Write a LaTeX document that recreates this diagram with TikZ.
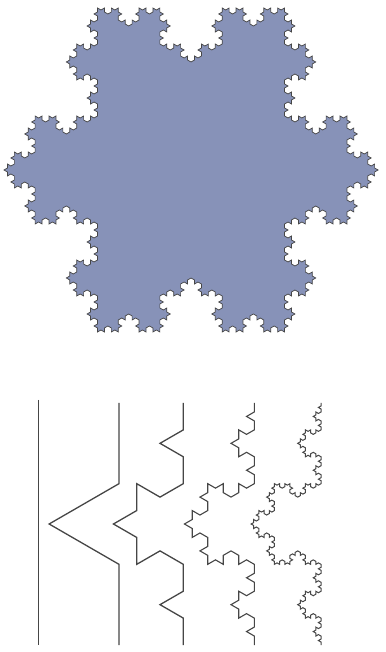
\documentclass[tikz,border=0pt]{standalone}
\usetikzlibrary{lindenmayersystems}
\pgfdeclarelindenmayersystem{Koch}{\rule{F -> F-F++F-F}}
\definecolor{flake}{RGB}{135,146,184}
\definecolor{ink}{RGB}{70,70,70}
\tikzset{
  flakefill/.style={fill=flake, draw=ink, line width=0.7pt, line join=miter},
  curveline/.style={draw=ink, line width=1.3pt, line join=miter}
}
\begin{document}
\begin{tikzpicture}[x=1pt,y=1pt]
\useasboundingbox (0,0) rectangle (385,652);
% Koch snowflake
\begin{scope}[shift={(97.5,320)}, rotate=30]
  \coordinate (s0) at (0,0);
  \path[flakefill] [l-system={Koch, axiom=F++F++F, order=4, step=4pt, angle=60}] (s0) lindenmayer system -- cycle;
\end{scope}
% Koch curve stages
\coordinate (c0t) at (38.3,252);
\coordinate (c0b) at (38.3,7);
\draw[curveline] (c0t) -- (c0b);
\begin{scope}[shift={(119,249)}, rotate=-90]
  \coordinate (c1) at (0,0);
  \path[curveline] [l-system={Koch, axiom=F, order=1, step=80.667pt, angle=60}] (c1) lindenmayer system;
\end{scope}
\begin{scope}[shift={(183.3,249)}, rotate=-90]
  \coordinate (c2) at (0,0);
  \path[curveline] [l-system={Koch, axiom=F, order=2, step=26.889pt, angle=60}] (c2) lindenmayer system;
\end{scope}
\begin{scope}[shift={(254.3,249)}, rotate=-90]
  \coordinate (c3) at (0,0);
  \path[curveline, line width=1.1pt] [l-system={Koch, axiom=F, order=3, step=8.963pt, angle=60}] (c3) lindenmayer system;
\end{scope}
\begin{scope}[shift={(321,249)}, rotate=-90]
  \coordinate (c4) at (0,0);
  \path[curveline, line width=1pt] [l-system={Koch, axiom=F, order=4, step=2.988pt, angle=60}] (c4) lindenmayer system;
\end{scope}
\end{tikzpicture}
\end{document}
